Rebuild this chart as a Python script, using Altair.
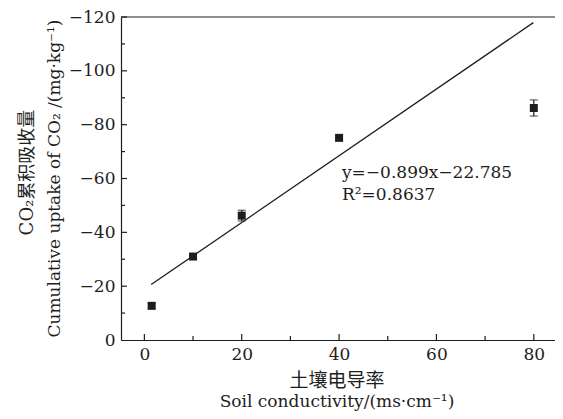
import altair as alt
import pandas as pd

# data
conductivity = [1.5, 10, 20, 40, 80]
uptake = [-12.7, -31.0, -46.2, -75.1, -86.2]
uptake_err = [1.0, 1.0, 2.0, 0.8, 3.0]
fit_x = [1.4, 79.9]
fit_y = [-20.6, -117.9]
x_major = [0, 20, 40, 60, 80]
x_minor = [10, 30, 50, 70]
y_major = [-20, -40, -60, -80, -100, -120]
y_minor = [-10, -30, -50, -70, -90, -110]
eq_lines = ["y=−0.899x−22.785", "R²=0.8637"]
x_title_cn = "土壤电导率"
x_title_en = "Soil conductivity/(ms·cm⁻¹)"
y_title_cn = "CO₂累积吸收量"
y_title_en = "Cumulative uptake of CO₂ /(mg·kg⁻¹)"

W, H = 442, 323
FONT = "DejaVu Serif, Noto Sans CJK SC"
INK = "#1e1e1e"

df = pd.DataFrame({"x": conductivity, "y": uptake, "e": uptake_err})
df["lo"] = df["y"] - df["e"]
df["hi"] = df["y"] + df["e"]

xs = alt.Scale(domain=[-4.8, 86], nice=False, zero=False)
ys = alt.Scale(domain=[0, -120], nice=False, zero=False)

x_axis = alt.Axis(values=x_major, ticks=False, grid=False, labelFont=FONT, labelFontSize=17,
                  labelColor=INK, labelPadding=6, domainColor=INK, domainWidth=1.2, title=None)
y_axis = alt.Axis(values=y_major + [0], ticks=False, grid=False, labelFont=FONT, labelFontSize=17,
                  labelColor=INK, labelPadding=6, domainColor=INK, domainWidth=1.2, title=None)

base = alt.Chart(df)

points = base.mark_square(size=64, color=INK, opacity=1).encode(
    x=alt.X("x:Q", scale=xs, axis=x_axis),
    y=alt.Y("y:Q", scale=ys, axis=y_axis),
)
err = base.mark_rule(color=INK, strokeWidth=1.2).encode(
    x=alt.X("x:Q", scale=xs), y=alt.Y("lo:Q", scale=ys), y2="hi:Q")
cap_lo = base.mark_tick(color=INK, thickness=1.2, size=8, orient="horizontal").encode(
    x=alt.X("x:Q", scale=xs), y=alt.Y("lo:Q", scale=ys))
cap_hi = base.mark_tick(color=INK, thickness=1.2, size=8, orient="horizontal").encode(
    x=alt.X("x:Q", scale=xs), y=alt.Y("hi:Q", scale=ys))

fit = alt.Chart(pd.DataFrame({"x": fit_x, "y": fit_y})).mark_line(
    color=INK, strokeWidth=1.3).encode(
    x=alt.X("x:Q", scale=xs), y=alt.Y("y:Q", scale=ys))

eq_df = pd.DataFrame({"x": [40.6, 40.6], "y": [-62.0, -54.0], "t": eq_lines})
eq = alt.Chart(eq_df).mark_text(align="left", baseline="middle", font=FONT, fontSize=17,
                                color=INK).encode(
    x=alt.X("x:Q", scale=xs), y=alt.Y("y:Q", scale=ys), text="t:N")

xmaj = alt.Chart(pd.DataFrame({"v": x_major})).mark_rule(color=INK, strokeWidth=1.2).encode(
    x=alt.X("v:Q", scale=xs), y=alt.value(H), y2=alt.value(H - 6))
xmin = alt.Chart(pd.DataFrame({"v": x_minor})).mark_rule(color=INK, strokeWidth=1.2).encode(
    x=alt.X("v:Q", scale=xs), y=alt.value(H), y2=alt.value(H - 4))
ymaj = alt.Chart(pd.DataFrame({"v": y_major})).mark_rule(color=INK, strokeWidth=1.2).encode(
    y=alt.Y("v:Q", scale=ys), x=alt.value(0), x2=alt.value(6))
ymin = alt.Chart(pd.DataFrame({"v": y_minor})).mark_rule(color=INK, strokeWidth=1.2).encode(
    y=alt.Y("v:Q", scale=ys), x=alt.value(0), x2=alt.value(4))
top = alt.Chart(pd.DataFrame({"v": [0]})).mark_rule(color=INK, strokeWidth=1.2).encode(
    x=alt.value(0), x2=alt.value(W), y=alt.value(0))

# axis titles as text
xt_cn = alt.Chart(pd.DataFrame({"t": [x_title_cn]})).mark_text(
    font=FONT, fontSize=19, color=INK, align="center", baseline="middle").encode(
    text="t:N", x=alt.value(216), y=alt.value(H + 41))
xt_en = alt.Chart(pd.DataFrame({"t": [x_title_en]})).mark_text(
    font=FONT, fontSize=17, color=INK, align="center", baseline="middle").encode(
    text="t:N", x=alt.value(216), y=alt.value(H + 62))
yt_cn = alt.Chart(pd.DataFrame({"t": [y_title_cn]})).mark_text(
    font=FONT, fontSize=18, color=INK, align="center", baseline="middle", angle=270).encode(
    text="t:N", x=alt.value(-93), y=alt.value(H / 2 - 6))
yt_en = alt.Chart(pd.DataFrame({"t": [y_title_en]})).mark_text(
    font=FONT, fontSize=17, color=INK, align="center", baseline="middle", angle=270).encode(
    text="t:N", x=alt.value(-66), y=alt.value(H / 2))

chart = alt.layer(points, err, cap_lo, cap_hi, fit, eq, xmaj, xmin, ymaj, ymin, top,
                  xt_cn, xt_en, yt_cn, yt_en).properties(
    width=W, height=H,
    autosize=alt.AutoSizeParams(type="none"),
    padding={"left": 113, "top": 9, "right": -8, "bottom": 71},
    background="white",
).configure_view(strokeWidth=0)

chart.save("out.html", embed_options={"renderer": "svg", "actions": False})
